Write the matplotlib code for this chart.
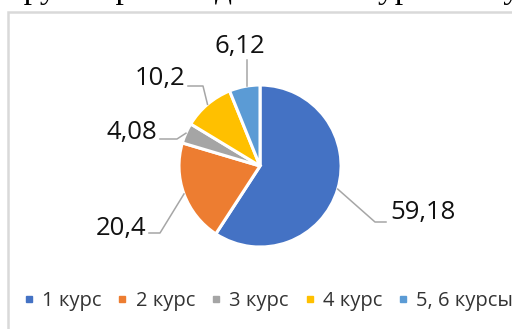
import matplotlib.pyplot as plt
from matplotlib.lines import Line2D
import numpy as np

values = [59.18, 20.4, 4.08, 10.2, 6.12]
value_labels = ["59,18", "20,4", "4,08", "10,2", "6,12"]
courses = ["1 курс", "2 курс", "3 курс", "4 курс", "5, 6 курсы"]
colors = ["#4472C4", "#ED7D31", "#A5A5A5", "#FFC000", "#5B9BD5"]

W, H = 512, 329

plt.rcParams["font.family"] = ["Open Sans", "DejaVu Sans"]

fig = plt.figure(figsize=(W / 100, H / 100), dpi=100)
ax = fig.add_axes([0, 0, 1, 1])
ax.set_xlim(0, W)
ax.set_ylim(0, H)
ax.axis("off")


def Y(y):
    # pixel rows counted from the top
    return H - y


# chart frame (light gray border)
ax.plot([8, 8, W + 5], [Y(H + 5), Y(12), Y(12)], color="#d9d9d9", lw=1.8,
        solid_joinstyle="miter", zorder=1)

# tail of the paragraph line above the chart
ax.text(10, Y(-2), "группе респондентов по курсам обучения,", family="Liberation Serif",
        fontsize=24, va="baseline", ha="left", color="black")

cx, cy, r = 260, Y(166), 81
explode = [7 / r, 0, 0, 0, 0]
wedges, _ = ax.pie(values, colors=colors, startangle=90, counterclock=False,
                   center=(cx, cy), radius=r, explode=explode,
                   wedgeprops=dict(edgecolor="white", linewidth=2.2))
ax.set_xlim(0, W)
ax.set_ylim(0, H)
ax.set_aspect("auto")

# leader lines: from the wedge edge to an elbow, then to the label
elbows = [[(375, 222), (386, 222)],
          [(160, 233), (149, 233)],
          [(177, 139), (160, 139)],
          [(203, 86), (188, 86)],
          [(247, 60)]]
text_pos = [(390, 213, "left"), (146, 228, "right"), (157, 132, "right"),
            (185, 78, "right"), (240, 46, "center")]

for i, w in enumerate(wedges):
    mid = np.deg2rad((w.theta1 + w.theta2) / 2)
    ox, oy = w.center
    sx, sy = ox + r * np.cos(mid), oy + r * np.sin(mid)
    if i == 4:
        sx = 247
    xs = [sx] + [p[0] for p in elbows[i]]
    ys = [sy] + [Y(p[1]) for p in elbows[i]]
    ax.plot(xs, ys, color="#a6a6a6", lw=1.1, zorder=3)
    tx, ty, ha = text_pos[i]
    ax.text(tx, Y(ty), value_labels[i], fontsize=18.5, ha=ha, va="center",
            color="#111111")

handles = [Line2D([], [], marker="s", ls="none", markersize=4.8,
                  markerfacecolor=c, markeredgecolor=c) for c in colors]
ax.legend(handles, courses, ncol=5, loc="center", frameon=False,
          bbox_to_anchor=(268 / W, Y(301) / H), fontsize=14.5,
          handlelength=0.6, handletextpad=0.35, columnspacing=0.75,
          labelcolor="#333333")

fig.savefig("out.png", dpi=100)
